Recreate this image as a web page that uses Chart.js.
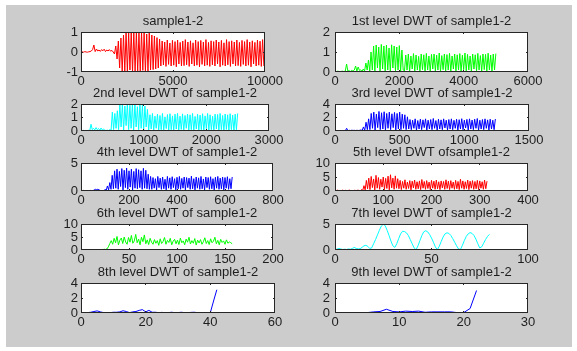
<!DOCTYPE html>
<html>
<head>
<meta charset="utf-8">
<title>DWT sample1-2</title>
<script src="https://cdn.jsdelivr.net/npm/chart.js@4.4.1/dist/chart.umd.min.js"></script>
<style>
  html, body { margin: 0; padding: 0; background: #ffffff; }
  #fig { position: absolute; left: 6px; top: 5px; width: 566px; height: 342px; background: #cccccc; }
  .panel { position: absolute; }
</style>
</head>
<body>
<div id="fig"></div>
<script>
// Titulos de cada subgrafica (fila por fila, izquierda y derecha)
const titles = [
    'sample1-2', '1st level DWT of sample1-2',
    '2nd level DWT of sample1-2', '3rd level DWT of sample1-2',
    '4th level DWT of sample1-2', '5th level DWT ofsample1-2',
    '6th level DWT of sample1-2', '7th level DWT of sample1-2',
    '8th level DWT of sample1-2', '9th level DWT of sample1-2'
];

// Marcas de los ejes
const xTicks = [
    [0, 5000, 10000], [0, 2000, 4000, 6000],
    [0, 1000, 2000, 3000], [0, 500, 1000, 1500],
    [0, 200, 400, 600, 800], [0, 100, 200, 300, 400],
    [0, 50, 100, 150, 200], [0, 50, 100],
    [0, 20, 40, 60], [0, 10, 20, 30]
];
const yTicks = [
    [-1, 0, 1], [0, 1, 2],
    [0, 1, 2], [0, 2, 4],
    [0, 5], [0, 5, 10],
    [0, 5, 10], [0, 5],
    [0, 2, 4], [0, 2, 4]
];

// Muestras (primer indice y separacion entre muestras)
const sampleStart = [0, 0, 0, 0, 0, 0, 0, 0, 0, 1];
const sampleStep = [70, 40, 20, 10, 5, 2.5, 1.5, 1, 1, 1];

const sigSample = [
    0, 0.01, -0.01, 0.02, 0, -0.01, 0.01, 0.02,
    0.05, 0.12, 0.35, 0.02, 0.15, 0.05, 0.1, 0.03, 0.12, 0.06, 0.14, 0.02, 0.1, 0.05, 0.12, 0.04, 0.08,
    0, -0.1,
    0.3, -0.35, 0.55,
    -0.8, 0.7, -1.0, 0.85,
    -0.95, 1.0, -1.0, 0.95, -0.9, 1.0, -1.02, 0.98, -0.95, 1.0, -0.98, 0.95, -1.0, 1.0,
    -0.92, 0.97, -1.0, 0.9, -0.95, 0.95, -0.9, 0.85, -0.88, 0.8, -0.85, 0.72, -0.8, 0.65,
    -0.7, 0.55, -0.65, 0.5, -0.72, 0.6, -0.62, 0.45, -0.7, 0.58, -0.66, 0.52, -0.74, 0.6, -0.6, 0.48, -0.7, 0.55, -0.68, 0.62,
    -0.64, 0.5, -0.72, 0.56, -0.6, 0.46, -0.7, 0.6, -0.66, 0.52, -0.74, 0.58, -0.62, 0.5, -0.7, 0.62, -0.66, 0.48, -0.72, 0.56,
    -0.64, 0.52, -0.7, 0.6, -0.6, 0.5, -0.74, 0.58, -0.66, 0.46, -0.7, 0.62, -0.64, 0.52, -0.72, 0.56, -0.6, 0.5, -0.7, 0.6,
    -0.68, 0.48, -0.72, 0.58, -0.62, 0.52, -0.7, 0.62, -0.66, 0.5, -0.74, 0.56, -0.6, 0.48, -0.7, 0.6, -0.66, 0.54, -0.72, 0.62,
    -0.7
];

const sigL1 = [
    0.03, 0.02, 0.04, 0.03, 0.02, 0.03, 0.04, 0.02, 0.05,
    0.4, 0.05,
    0.06, 0.03, 0.08, 0.04, 0.1,
    0.3, 0.05, 0.25, 0.08,
    0.1, 0.04, 0.15,
    0.05, 0.45, 0.1, 0.6, 0.05, 1.0,
    0.1, 1.3, 0.05, 1.35, 0.2, 1.25, 0.02, 1.38, 0.15, 1.3, 0.05, 1.35, 0.1, 1.2, 0.02, 1.36,
    0.2, 1.3, 0.05, 1.25, 0.1, 1.32, 0.03, 1.1, 0.1,
    0.05, 0.85, 0.1, 0.9, 0.02, 0.8, 0.15, 0.92, 0.05, 0.85, 0.1, 0.78, 0.02, 0.9, 0.12, 0.86, 0.05, 0.93, 0.1, 0.8,
    0.03, 0.88, 0.15, 0.9, 0.05, 0.84, 0.1, 0.95, 0.02, 0.82, 0.12, 0.9, 0.05, 0.87, 0.1, 0.93, 0.03, 0.8, 0.15, 0.9,
    0.05, 0.86, 0.1, 0.92, 0.02, 0.84, 0.12, 0.95, 0.05, 0.88, 0.1, 0.8, 0.03, 0.9, 0.15, 0.86, 0.05, 0.93, 0.1, 0.82,
    0.02, 0.9, 0.12, 0.88, 0.05, 0.94, 0.1, 0.85, 0.03, 0.9, 0.1, 0.92
];

const sigL2 = [
    0.04, 0.03, 0.05, 0.03, 0.04, 0.03, 0.05, 0.04,
    0.5,
    0.1, 0.2, 0.08, 0.25, 0.1, 0.18, 0.06, 0.22, 0.08, 0.15, 0.05,
    0.04, 0.06, 0.03, 0.1, 0.05,
    1.4, 0.1, 1.3, 0.2, 1.5,
    0.1, 1.95, 0.3, 2.0, 0.05, 1.85, 0.4, 2.0, 0.1, 1.9, 0.2, 2.0,
    0.05, 1.95, 0.3, 1.8, 0.1, 2.0, 0.2, 1.9, 0.05, 1.85, 0.3, 1.6,
    0.05, 1.2, 0.15, 1.3, 0.02, 1.1, 0.2, 1.25, 0.05, 1.15, 0.1, 1.3, 0.03, 1.05, 0.18, 1.22, 0.05, 1.28, 0.1, 1.12,
    0.02, 1.25, 0.15, 1.3, 0.05, 1.1, 0.12, 1.27, 0.03, 1.15, 0.2, 1.25, 0.05, 1.2, 0.1, 1.3, 0.02, 1.08, 0.15, 1.24,
    0.05, 1.18, 0.1, 1.28, 0.03, 1.12, 0.18, 1.3, 0.05, 1.2, 0.1, 1.1, 0.02, 1.25, 0.15, 1.22, 0.05, 1.3, 0.1, 1.15,
    0.03, 1.26, 0.12, 1.2, 0.05, 1.28, 0.1, 1.18, 0.02, 1.25, 0.1, 1.3
];

const sigL3 = [
    0.05, 0.04, 0.06, 0.05, 0.04, 0.05, 0.06, 0.04, 0.05,
    0.4,
    0.05, 0.1, 0.06, 0.12, 0.08, 0.1, 0.05, 0.12, 0.06, 0.1, 0.15, 0.08,
    0.6, 0.1, 1.3, 0.2, 1.8,
    0.2, 2.6, 0.4, 2.8, 0.1, 2.5, 0.5, 2.9, 0.2, 2.7, 0.3, 2.85, 0.1, 2.6,
    0.4, 2.8, 0.2, 2.55, 0.5, 2.75, 0.1, 2.6, 0.3, 2.8, 0.2, 2.5, 0.4,
    2.4, 0.2, 2.1, 0.3,
    1.7, 0.2, 1.6, 0.4, 1.8, 0.1, 1.55, 0.3, 1.75, 0.2, 1.65, 0.5, 1.8, 0.15, 1.6, 0.3, 1.7, 0.2, 1.85, 0.4,
    1.55, 0.1, 1.75, 0.3, 1.65, 0.2, 1.8, 0.45, 1.6, 0.15, 1.7, 0.3, 1.8, 0.2, 1.58, 0.4, 1.75, 0.1, 1.68, 0.3,
    1.82, 0.2, 1.6, 0.45, 1.72, 0.15, 1.8, 0.3, 1.62, 0.2, 1.75, 0.4, 1.85, 0.1, 1.6, 0.3, 1.7, 0.2, 1.8, 0.4,
    1.65, 0.15, 1.75, 0.3, 1.6, 0.2, 1.78
];

const sigL4 = [
    0.05, 0.05, 0.1, 0.05, 0.08, 0.05, 0.06, 0.05, 0.1, 0.05, 0.05, 0.2, 0.3, 0.25, 0.3, 0.2, 0.1, 0.05, 0.08, 0.05,
    0.3, 0.1, 0.9, 0.2,
    1.5, 0.3, 2.8, 0.4,
    3.6, 0.5, 3.9, 0.3, 3.5, 0.8, 4.0, 0.2, 3.7, 0.6, 4.1, 0.3, 3.6, 0.7,
    3.9, 0.2, 3.5, 0.5, 4.0, 0.4, 3.8, 0.6, 3.6, 0.3, 4.05, 0.5, 3.7,
    0.4, 3.0, 0.3, 2.6,
    0.3, 2.4, 0.5, 2.2, 0.2, 2.6, 0.6, 2.3, 0.3, 2.5, 0.4, 2.1, 0.2, 2.6, 0.5, 2.35, 0.3, 2.55, 0.6, 2.2,
    0.2, 2.45, 0.4, 2.6, 0.3, 2.25, 0.5, 2.5, 0.2, 2.4, 0.6, 2.3, 0.3, 2.65, 0.4, 2.2, 0.2, 2.5, 0.5, 2.35,
    0.3, 2.6, 0.4, 2.15, 0.2, 2.5, 0.6, 2.4, 0.3, 2.55, 0.4, 2.2, 0.2, 2.45, 0.5, 2.6, 0.3, 2.3, 0.4, 2.5,
    0.2, 2.4, 0.5, 2.55, 0.3, 2.2, 0.4, 2.5
];

const sigL5 = [
    0.2, 0.1, 0.3, 0.15, 0.2, 0.1, 0.3, 0.2, 0.15, 0.25, 0.1, 0.2, 0.3, 0.15, 0.2, 0.1, 0.25, 0.2, 0.15, 0.3, 0.2, 0.1,
    0.5, 0.2, 1.9, 0.4,
    3.8, 0.8, 4.6, 0.5, 5.2, 1.2, 4.3, 0.4, 5.6, 1.0, 4.8, 0.6, 4.2, 1.4,
    5.0, 0.5, 4.5, 0.9, 5.3, 0.4, 5.8, 1.1, 4.6, 0.6, 5.4, 1.0, 4.4,
    0.8, 3.8, 0.5, 3.4, 1.0, 4.0, 0.6, 3.2, 0.9, 3.7, 0.4, 3.5, 1.1, 3.9, 0.6, 3.3, 0.8, 3.6, 0.5, 4.1,
    1.0, 3.4, 0.6, 3.7, 0.9, 3.2, 0.5, 3.8, 1.0, 3.5, 0.6, 3.9, 0.8, 3.3, 0.5, 3.6, 1.1, 3.4, 0.6, 4.0,
    0.9, 3.5, 0.5, 3.7, 1.0, 3.2, 0.6, 3.8, 0.8, 3.4, 0.5, 4.2, 1.0, 3.6, 0.6, 3.3, 0.9, 3.9, 0.5, 3.5,
    1.0, 3.7, 0.6, 3.4, 0.8, 3.8, 0.5, 3.6, 1.0, 3.3, 0.6, 3.9, 0.8, 3.5
];

const sigL6 = [
    0.1, 0.2, 0.1, 0.15, 0.2, 0.1, 0.15, 0.1, 0.2, 0.15, 0.1, 0.2, 0.1, 0.15, 0.2, 0.1, 0.3, 0.2, 0.4,
    1.2, 2.5, 3.6,
    2.2, 4.5, 2.8, 5.2, 2.0, 3.8, 4.6, 2.5, 5.0, 3.1,
    2.2, 4.8, 3.0, 5.6, 2.6, 3.5, 6.0, 2.8, 4.2, 2.0,
    4.9, 3.2, 5.8, 2.4, 3.9, 2.1, 4.5, 3.0, 2.2, 4.0,
    2.6, 3.6, 1.8, 4.3, 2.5, 3.3, 4.8, 2.2, 3.7, 2.9,
    4.5, 2.0, 3.4, 4.1, 2.4, 3.8, 2.1, 4.6, 2.8, 3.5,
    2.0, 4.2, 3.0, 4.9, 2.3, 3.6, 2.6, 4.4, 1.9, 3.8,
    2.7, 4.0, 2.2, 3.2, 4.7, 2.5, 3.6, 2.1, 4.3, 2.8,
    3.4, 4.9, 2.4, 3.7, 2.0, 4.1, 2.9, 3.5, 2.2, 3.9,
    2.6, 3.1, 2.8, 2.4
];

const sigL7 = [
    0.1, 0.15, 0.3, 0.2, 0.1, 0.15, 0.1, 0.2, 0.15, 0.3,
    0.5, 0.3, 0.2, 0.25, 0.5, 0.8, 0.9, 0.7, 0.3, 0.4,
    1.2, 2.0, 2.9, 3.8, 4.6, 4.95, 4.7, 3.8, 2.8, 1.7,
    0.8, 0.5, 1.2, 2.2, 3.1, 3.6, 3.55, 3.3, 2.8, 2.0,
    1.2, 0.4, 0.05, 0.8, 1.8, 2.8, 3.5, 3.7, 3.5, 3.0,
    2.3, 1.5, 0.6, 0.05, 0.7, 1.6, 2.5, 3.1, 3.3, 3.2,
    2.8, 2.2, 1.5, 0.8, 0.2, 0.1, 0.9, 1.8, 2.6, 3.1,
    3.35, 3.2, 2.8, 2.1, 1.2, 0.4, 0.6, 1.3, 2.0, 2.6,
    3.0
];

const sigL8 = [
    0.05, 0.05, 0.05, 0.1, 0.2, 0.28, 0.15, 0.05, 0.05, 0.05,
    0.1, 0.1, 0.15, 0.3, 0.2, 0.05, 0.15, 0.2, 0.35, 0.45,
    0.15, 0.35, 0.1, 0.1, 0.05, 0.08, 0.05, 0.05, 0.1, 0.05,
    0.05, 0.1, 0.05, 0.05, 0.08, 0.1, 0.05, 0.05, 0.05, 0.05,
    0.05, 1.6, 3.1
];

const sigL9 = [
    0.05, 0.05, 0.05, 0.05, 0.05, 0.15, 0.2, 0.5, 0.2, 0.15, 0.25,
    0.2, 0.25, 0.1, 0.15, 0.15, 0.15, 0.15, 0.05, 0.05, 0.6, 3.0
];

const signals = [sigSample, sigL1, sigL2, sigL3, sigL4, sigL5, sigL6, sigL7, sigL8, sigL9];
const lineColors = ['#ff0000', '#00ff00', '#00ffff', '#0000ff', '#0000ff',
                    '#ff0000', '#00ff00', '#00ffff', '#0000ff', '#0000ff'];

// Cajas de cada eje en pixeles (bordes incluidos)
const boxes = [
    {l: 81, t: 32, r: 264, b: 71},   {l: 335, t: 32, r: 527, b: 71},
    {l: 81, t: 104, r: 268, b: 130}, {l: 335, t: 104, r: 528, b: 130},
    {l: 81, t: 163, r: 272, b: 190}, {l: 335, t: 163, r: 527, b: 190},
    {l: 81, t: 224, r: 272, b: 249}, {l: 335, t: 224, r: 527, b: 249},
    {l: 81, t: 283, r: 274, b: 312}, {l: 335, t: 283, r: 527, b: 312}
];

const FONT = "'Liberation Sans', Arial, Helvetica, sans-serif";
const TEXT = '#1e1e1e';
const FRAME = '#262626';
const SIDE = 45, TITLE_H = 21, BOTTOM_H = 20, TICK_LEN = 2;

// Caja tipo matlab: fondo blanco, marco y marcas hacia adentro
const matlabBox = {
    id: 'matlabBox',
    beforeDraw(chart) {
        const {ctx, chartArea: a} = chart;
        ctx.save();
        ctx.fillStyle = '#ffffff';
        ctx.fillRect(a.left, a.top, a.width, a.height);
        ctx.restore();
    },
    afterDatasetsDraw(chart) {
        const {ctx, chartArea: a, scales} = chart;
        ctx.save();
        ctx.strokeStyle = FRAME;
        ctx.lineWidth = 1;
        ctx.beginPath();
        scales.x.ticks.forEach(t => {
            const px = Math.floor(scales.x.getPixelForValue(t.value)) + 0.5;
            if (px <= a.left + 1 || px >= a.right - 1) return;
            ctx.moveTo(px, a.bottom); ctx.lineTo(px, a.bottom - TICK_LEN);
            ctx.moveTo(px, a.top); ctx.lineTo(px, a.top + TICK_LEN);
        });
        scales.y.ticks.forEach(t => {
            const py = Math.floor(scales.y.getPixelForValue(t.value)) + 0.5;
            if (py <= a.top + 1 || py >= a.bottom - 1) return;
            ctx.moveTo(a.left, py); ctx.lineTo(a.left + TICK_LEN, py);
            ctx.moveTo(a.right, py); ctx.lineTo(a.right - TICK_LEN, py);
        });
        ctx.stroke();
        ctx.strokeRect(a.left + 0.5, a.top + 0.5, a.width - 1, a.height - 1);
        ctx.restore();
    }
};

boxes.forEach((b, k) => {
    const w = b.r - b.l + 1;
    const h = b.b - b.t + 1;

    const div = document.createElement('div');
    div.className = 'panel';
    div.style.left = (b.l - SIDE) + 'px';
    div.style.top = (b.t - TITLE_H) + 'px';
    div.style.width = (w + 2 * SIDE) + 'px';
    div.style.height = (TITLE_H + h + BOTTOM_H) + 'px';
    const cv = document.createElement('canvas');
    div.appendChild(cv);
    document.body.appendChild(div);

    const pts = signals[k].map((v, i) => ({x: sampleStart[k] + i * sampleStep[k], y: v}));
    const xt = xTicks[k], yt = yTicks[k];

    new Chart(cv, {
        type: 'line',
        data: {
            datasets: [{
                data: pts,
                borderColor: lineColors[k],
                borderWidth: 1,
                pointRadius: 0,
                tension: 0,
                fill: false
            }]
        },
        options: {
            responsive: true,
            maintainAspectRatio: false,
            animation: false,
            events: [],
            layout: {padding: 0},
            plugins: {
                legend: {display: false},
                tooltip: {enabled: false},
                title: {
                    display: true,
                    text: titles[k],
                    color: TEXT,
                    font: {family: FONT, size: 13, weight: 'normal', lineHeight: '16px'},
                    padding: {top: 2, bottom: 3}
                }
            },
            scales: {
                x: {
                    type: 'linear',
                    min: xt[0],
                    max: xt[xt.length - 1],
                    afterBuildTicks: s => { s.ticks = xt.map(v => ({value: v})); },
                    afterFit: s => { s.height = BOTTOM_H; },
                    grid: {display: false, drawTicks: false},
                    border: {display: false},
                    ticks: {
                        autoSkip: false, maxRotation: 0, minRotation: 0, padding: 2,
                        color: TEXT, font: {family: FONT, size: 13},
                        callback: v => String(v)
                    }
                },
                y: {
                    type: 'linear',
                    min: yt[0],
                    max: yt[yt.length - 1],
                    afterBuildTicks: s => { s.ticks = yt.map(v => ({value: v})); },
                    afterFit: s => { s.width = SIDE; },
                    grid: {display: false, drawTicks: false},
                    border: {display: false},
                    ticks: {
                        autoSkip: false, padding: b.l < 200 ? 3 : 5,
                        color: TEXT, font: {family: FONT, size: 13},
                        callback: v => String(v)
                    }
                },
                // eje vacio a la derecha para dejar el titulo centrado
                yr: {
                    type: 'linear',
                    position: 'right',
                    afterFit: s => { s.width = SIDE; },
                    grid: {display: false, drawTicks: false},
                    border: {display: false},
                    ticks: {display: false}
                }
            }
        },
        plugins: [matlabBox]
    });
});
</script>
</body>
</html>
